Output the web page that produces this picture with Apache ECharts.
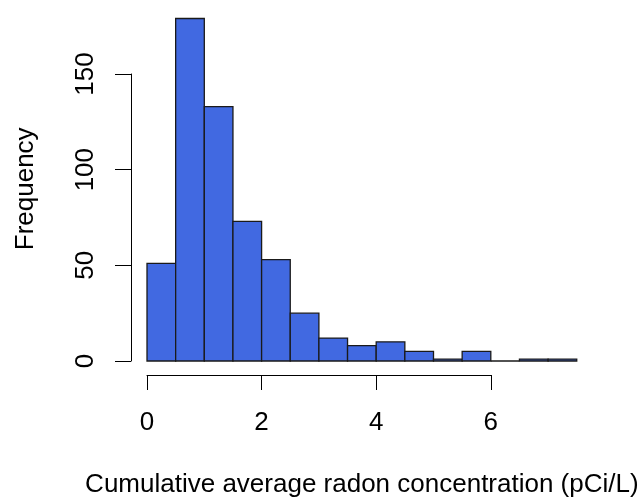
<!DOCTYPE html>
<html>
<head>
<meta charset="utf-8">
<script src="https://cdn.jsdelivr.net/npm/echarts@6/dist/echarts.min.js"></script>
<style>
html,body{margin:0;padding:0;background:#fff;}
#chart{width:640px;height:498px;}
</style>
</head>
<body>
<div id="chart"></div>
<script>
const binEdges = [0,0.5,1,1.5,2,2.5,3,3.5,4,4.5,5,5.5,6,6.5,7,7.5];
const counts = [51,179,133,73,53,25,12,8,10,5,1,5,0,1,1];
const xTicks = [0,2,4,6];
const yTicks = [0,50,100,150];
const xTitle = 'Cumulative average radon concentration (pCi/L)';
const yTitle = 'Frequency';

const barData = counts.map((c,i)=>[binEdges[i], binEdges[i+1], c]);

const chart = echarts.init(document.getElementById('chart'), null, {renderer:'canvas'});
const font = 'Liberation Sans, Arial, Helvetica, sans-serif';
const pxPerUnitY = 287/150;
const g0Height = 180*pxPerUnitY;

chart.setOption({
  animation:false,
  backgroundColor:'#ffffff',
  grid:[
    {left:147, width:57.3*binEdges[binEdges.length-1], top:361-g0Height, height:g0Height,
     containLabel:false, outerBoundsMode:'none'},
    {left:147, width:57.3*xTicks[xTicks.length-1], top:74, height:287,
     containLabel:false, outerBoundsMode:'none'}
  ],
  xAxis:[
    {gridIndex:0, type:'value', min:binEdges[0], max:binEdges[binEdges.length-1],
     axisLine:{show:false, onZero:false}, axisTick:{show:false}, axisLabel:{show:false}, splitLine:{show:false},
     name:xTitle, nameLocation:'middle', nameGap:111,
     nameTextStyle:{fontFamily:font, fontSize:26, color:'#000'}},
    {gridIndex:1, type:'value', min:xTicks[0], max:xTicks[xTicks.length-1], interval:2,
     offset:14,
     axisLine:{show:true, onZero:false, lineStyle:{color:'#000', width:1}},
     axisTick:{show:true, length:15, lineStyle:{color:'#000', width:1}},
     axisLabel:{show:true, margin:35, fontFamily:font, fontSize:26, color:'#000'},
     splitLine:{show:false}}
  ],
  yAxis:[
    {gridIndex:0, type:'value', min:0, max:180, offset:16,
     axisLine:{show:false, onZero:false}, axisTick:{show:false}, axisLabel:{show:false}, splitLine:{show:false},
     name:yTitle, nameLocation:'middle', nameGap:92, nameRotate:90,
     nameTextStyle:{fontFamily:font, fontSize:26, color:'#000'}},
    {gridIndex:1, type:'value', min:yTicks[0], max:yTicks[yTicks.length-1], interval:50,
     offset:16,
     axisLine:{show:true, onZero:false, lineStyle:{color:'#000', width:1}},
     axisTick:{show:true, length:16, lineStyle:{color:'#000', width:1}},
     axisLabel:{show:true, rotate:90, margin:45, fontFamily:font, fontSize:26, color:'#000',
       verticalAlign:'middle', align:'center'},
     splitLine:{show:false}}
  ],
  series:[{
    type:'custom',
    xAxisIndex:0, yAxisIndex:0,
    clip:false,
    data:barData,
    renderItem:function(params, api){
      const p0 = api.coord([api.value(0), 0]);
      const p1 = api.coord([api.value(1), api.value(2)]);
      return {
        type:'rect',
        shape:{x:p0[0], y:p1[1], width:p1[0]-p0[0], height:p0[1]-p1[1]},
        style:{fill:'#4169E1', stroke:'#1a1a1a', lineWidth:1.3}
      };
    }
  }]
});
</script>
</body>
</html>
